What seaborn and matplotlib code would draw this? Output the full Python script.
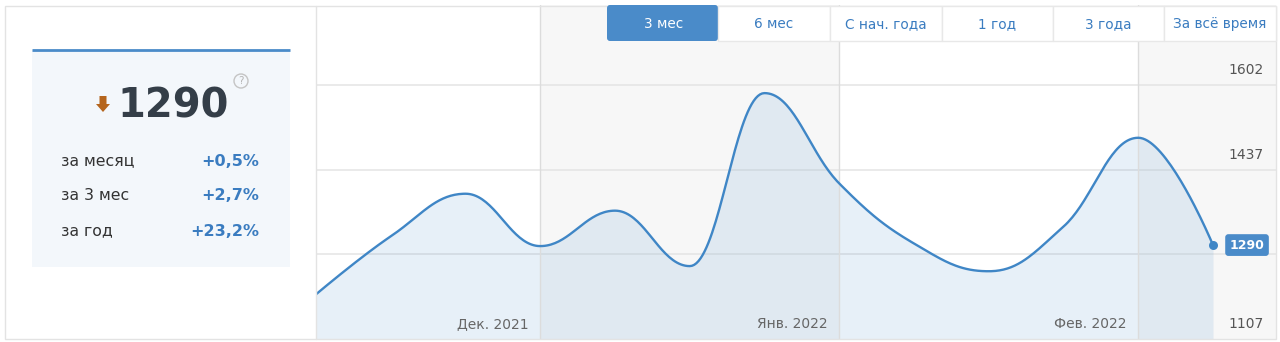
import numpy as np
import pandas as pd
import matplotlib
matplotlib.use("Agg")
import matplotlib.pyplot as plt
import seaborn as sns
from matplotlib.patches import Rectangle, FancyBboxPatch, Polygon, Circle

# ---------------- data ----------------
values = [1194, 1307, 1390, 1288, 1357, 1249, 1586, 1410, 1293, 1239, 1326, 1499, 1290]
month_labels = ["Дек. 2021", "Янв. 2022", "Фев. 2022"]
month_bounds = [3, 7, 11]
y_ticks = [1107, 1272, 1437, 1602]
y_tick_labels = ["1107", "", "1437", "1602"]
tabs = ["3 мес", "6 мес", "С нач. года", "1 год", "3 года", "За всё время"]
active_tab = "3 мес"
current_value = "1290"
stat_labels = ["за месяц", "за 3 мес", "за год"]
stat_values = ["+0,5%", "+2,7%", "+23,2%"]

# ---------------- style ----------------
sns.set_theme(style="white")
plt.rcParams["font.family"] = ["DejaVu Sans"]

BLUE = "#3f86c6"
BLUE_BOX = "#4a8bc9"
TXT_BLUE = "#3a7cc0"
GREY_TXT = "#666666"
GRID = "#e6e6e6"
BAND = "#f7f7f7"

W, H = 1280, 342
fig = plt.figure(figsize=(W / 100, H / 100), dpi=100)
fig.patch.set_facecolor("white")

# main chart axes (pixel layout: x 316..1276, y 5..339)
L, R, T, B = 316, 1276, 5, 339
ax = fig.add_axes([L / W, (H - B) / H, (R - L) / W, (B - T) / H])
px_per_unit = 74.75
xmax = (R - L) / px_per_unit
val_per_px = 165 / 84.7
ymin = y_ticks[0]
ymax = ymin + (B - T) * val_per_px
ax.set_xlim(0, xmax)
ax.set_ylim(ymin, ymax)
ax.set_facecolor("white")
for s in ax.spines.values():
    s.set_visible(False)
ax.set_xticks([])
ax.set_yticks([])

# alternating bands
edges = [0] + month_bounds + [xmax]
for i in range(len(edges) - 1):
    if i % 2 == 1:
        ax.axvspan(edges[i], edges[i + 1], color=BAND, zorder=0, lw=0)

# horizontal grid
for yt in y_ticks[1:]:
    ax.axhline(yt, color=GRID, lw=1.2, zorder=1)


# Highcharts-like spline
def spline(xs, ys, smoothing=1.5, n=40):
    N = len(xs)
    lc = [(xs[i], ys[i]) for i in range(N)]
    rc = [(xs[i], ys[i]) for i in range(N)]
    d = smoothing + 1
    for i in range(1, N - 1):
        px, py = xs[i], ys[i]
        lx, ly = xs[i - 1], ys[i - 1]
        nx, ny = xs[i + 1], ys[i + 1]
        lcx = (smoothing * px + lx) / d
        lcy = (smoothing * py + ly) / d
        rcx = (smoothing * px + nx) / d
        rcy = (smoothing * py + ny) / d
        corr = (rcy - lcy) * (rcx - px) / (rcx - lcx) + py - rcy
        lcy += corr
        rcy += corr
        if lcy > ly and lcy > py:
            lcy = max(ly, py); rcy = 2 * py - lcy
        elif lcy < ly and lcy < py:
            lcy = min(ly, py); rcy = 2 * py - lcy
        if rcy > ny and rcy > py:
            rcy = max(ny, py); lcy = 2 * py - rcy
        elif rcy < ny and rcy < py:
            rcy = min(ny, py); lcy = 2 * py - rcy
        lc[i] = (lcx, lcy)
        rc[i] = (rcx, rcy)
    X, Y = [], []
    t = np.linspace(0, 1, n)
    for i in range(1, N):
        P0 = np.array([xs[i - 1], ys[i - 1]])
        P1 = np.array(rc[i - 1])
        P2 = np.array(lc[i])
        P3 = np.array([xs[i], ys[i]])
        pts = ((1 - t)[:, None] ** 3 * P0 + 3 * ((1 - t) ** 2 * t)[:, None] * P1
               + 3 * ((1 - t) * t ** 2)[:, None] * P2 + (t ** 3)[:, None] * P3)
        if i > 1:
            pts = pts[1:]
        X.extend(pts[:, 0]); Y.extend(pts[:, 1])
    return np.array(X), np.array(Y)


xs = np.arange(len(values), dtype=float)
sx, sy = spline(xs, np.array(values, dtype=float))
curve = pd.DataFrame({"x": sx, "y": sy})

ax.fill_between(curve["x"], curve["y"], ymin, color=BLUE, alpha=0.12, lw=0, zorder=2)
for b in month_bounds:
    ax.axvline(b, color="#dcdcdc", lw=1, zorder=3)
sns.lineplot(data=curve, x="x", y="y", ax=ax, color=BLUE, lw=1.7, zorder=4,
             sort=False, estimator=None)
ax.set_xlabel("")
ax.set_ylabel("")
ax.scatter([xs[-1]], [values[-1]], s=42, color=BLUE, zorder=5, lw=0)

# y labels inside right
ytrans = matplotlib.transforms.blended_transform_factory(ax.transAxes, ax.transData)
for yt, lab in zip(y_ticks, y_tick_labels):
    if not lab:
        continue
    ax.annotate(lab, xy=(1, yt), xycoords=ytrans, xytext=(-8.6, 10.5),
                textcoords="offset points", ha="right", va="center",
                fontsize=10, color="#555555", zorder=6)

# month labels
for b, lab in zip(month_bounds, month_labels):
    ax.annotate(lab, xy=(b, ymin), xytext=(-8.6, 10.5), textcoords="offset points",
                ha="right", va="center", fontsize=10, color=GREY_TXT, zorder=6)

# last value box
ax.annotate(current_value, xy=(xs[-1], values[-1]), xytext=(24.5, 0),
            textcoords="offset points", ha="center", va="center",
            fontsize=9, fontweight="bold", color="white", zorder=7,
            bbox=dict(boxstyle="round,pad=0.35,rounding_size=0.25",
                      fc=BLUE_BOX, ec="none"))

# ---------------- overlay (pixel coords) ----------------
ov = fig.add_axes([0, 0, 1, 1], zorder=10)
ov.set_xlim(0, W)
ov.set_ylim(H, 0)
ov.axis("off")
ov.patch.set_alpha(0)

# frame
ov.add_patch(Rectangle((4.5, 5.5), R - 4.5, 333, fill=False, ec="#e3e3e3", lw=1))
ov.plot([L, L], [5.5, 338.5], color="#e3e3e3", lw=1)

# tabs
tab_x = [607, 718, 830, 942, 1053, 1164, 1276]
for i, name in enumerate(tabs):
    x0, x1 = tab_x[i], tab_x[i + 1]
    if name == active_tab:
        ov.add_patch(FancyBboxPatch((x0, 5), x1 - x0, 36,
                                    boxstyle="round,pad=0,rounding_size=3",
                                    fc=BLUE_BOX, ec="none"))
        col = "white"
    else:
        ov.add_patch(Rectangle((x0, 5.5), x1 - x0, 35.5, fc="white", ec="#e8e8e8", lw=1))
        col = TXT_BLUE
    ov.text((x0 + x1) / 2 + (1 if name == active_tab else 0), 24, name,
            ha="center", va="center", fontsize=9.8, color=col)

# left panel
ov.add_patch(Rectangle((32, 50), 258, 217, fc="#f3f7fb", ec="none"))
ov.plot([32, 290], [50, 50], color=BLUE_BOX, lw=2, solid_capstyle="butt")
# down arrow
ov.add_patch(Polygon([[99.5, 96], [106.5, 96], [106.5, 104], [110, 104],
                      [103, 112], [96, 104], [99.5, 104]], closed=True,
                     fc="#b5651d", ec="none"))
ov.text(117, 106, current_value, ha="left", va="center", fontsize=28.8,
        fontweight="bold", color="#343e48")
ov.add_patch(Circle((241, 81), 7, fill=False, ec="#c4c4c4", lw=1))
ov.text(241, 81.5, "?", ha="center", va="center", fontsize=7.5, color="#b5b5b5")
for i, (lab, val) in enumerate(zip(stat_labels, stat_values)):
    yy = 161 + 35 * i
    ov.text(61, yy, lab, ha="left", va="center", fontsize=11.3, color="#333333")
    ov.text(259, yy, val, ha="right", va="center", fontsize=11.5,
            fontweight="bold", color=TXT_BLUE)

fig.savefig("out.png", dpi=100, facecolor="white")
